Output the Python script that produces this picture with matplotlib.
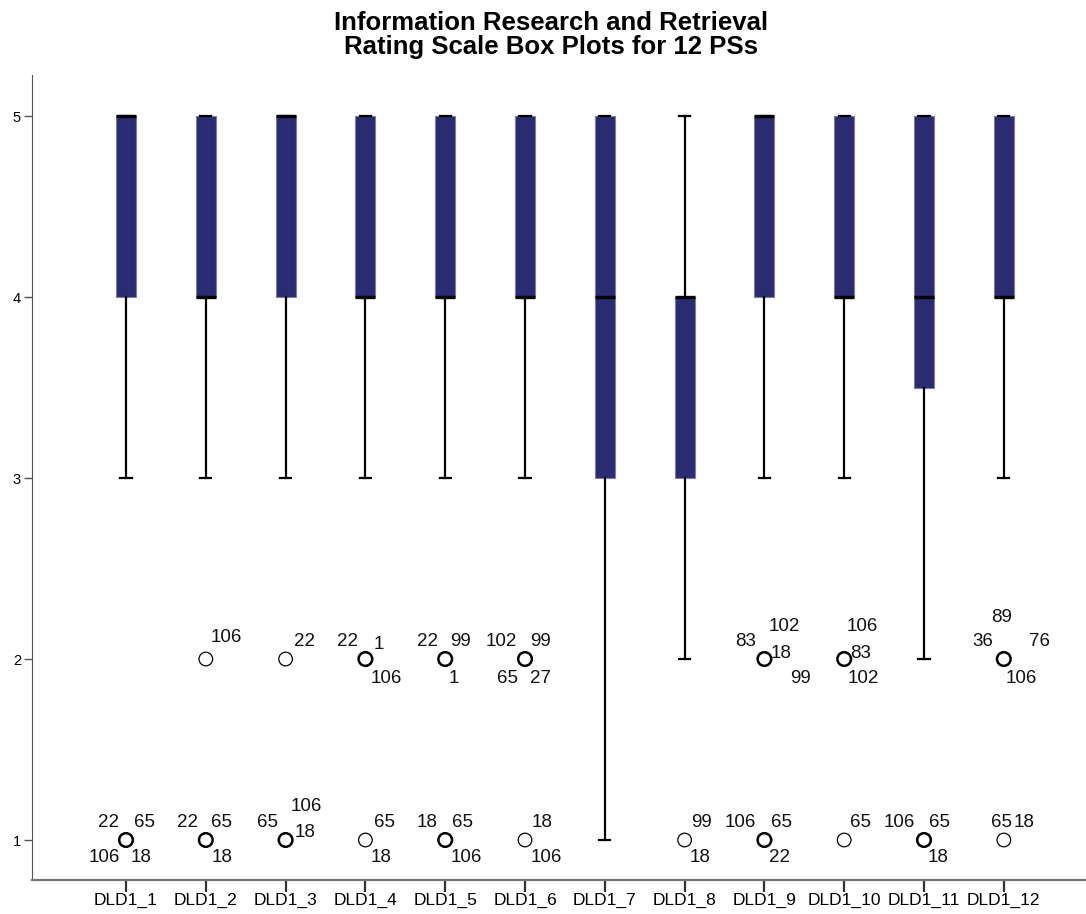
import numpy as np
import matplotlib
matplotlib.use('Agg')
import matplotlib.pyplot as plt

plt.rcParams['font.family'] = ['Liberation Sans', 'DejaVu Sans']

# rating summary for each PS item (1-5 scale)
ps_labels = ['DLD1_1', 'DLD1_2', 'DLD1_3', 'DLD1_4', 'DLD1_5', 'DLD1_6',
             'DLD1_7', 'DLD1_8', 'DLD1_9', 'DLD1_10', 'DLD1_11', 'DLD1_12']
q1 = [4, 4, 4, 4, 4, 4, 3, 3, 4, 4, 3.5, 4]
medians = [5, 4, 5, 4, 4, 4, 4, 4, 5, 4, 4, 4]
q3 = [5, 5, 5, 5, 5, 5, 5, 4, 5, 5, 5, 5]
whisker_lo = [3, 3, 3, 3, 3, 3, 1, 2, 3, 3, 2, 3]
whisker_hi = [5, 5, 5, 5, 5, 5, 5, 5, 5, 5, 5, 5]

# outlying ratings and the case numbers at each one
outlier_values = [[1], [2, 1], [2, 1], [2, 1], [2, 1], [2, 1],
                  [], [1], [2, 1], [2, 1], [1], [2, 1]]
outlier_cases = [
    [[22, 65, 106, 18]],
    [[106], [22, 65, 18]],
    [[22], [65, 106, 18]],
    [[22, 1, 106], [65, 18]],
    [[22, 99, 1], [18, 65, 106]],
    [[102, 99, 65, 27], [18, 106]],
    [],
    [[99, 18]],
    [[83, 102, 18, 99], [106, 65, 22]],
    [[106, 83, 102], [65]],
    [[106, 65, 18]],
    [[89, 36, 76, 106], [65, 18]],
]

# where each case label sits around its circle (pixels, +y is downward)
label_offsets = [
    [[(-18, -18), (18, -18), (-22, 17), (15, 17)]],
    [[(21, -22)], [(-18, -18), (16, -18), (16, 17)]],
    [[(19, -18)], [(-18, -18), (21, -34), (19, -8)]],
    [[(-18, -18), (13, -15), (21, 19)], [(19, -18), (16, 17)]],
    [[(-18, -18), (15, -18), (9, 19)], [(-18, -18), (17, -18), (21, 17)]],
    [[(-24, -18), (15, -18), (-18, 19), (15, 19)], [(17, -18), (21, 17)]],
    [],
    [[(17, -18), (15, 17)]],
    [[(-19, -18), (20, -33), (17, -6), (36, 19)], [(-24, -18), (17, -18), (15, 17)]],
    [[(18, -33), (16, -6), (19, 19)], [(16, -18)]],
    [[(-25, -18), (15, -18), (14, 17)]],
    [[(-2, -42), (-21, -18), (36, -18), (18, 19)], [(-2, -18), (20, -18)]],
]

box_color = '#2a2b70'
px = 0.72  # points per pixel at dpi 100

fig = plt.figure(figsize=(10.86, 9.14), dpi=100)
ax = fig.add_axes([32 / 1086, 34 / 914, 1 - 32 / 1086, (880 - 75) / 914])

positions = np.arange(1, len(ps_labels) + 1)
stats = []
for i in range(len(ps_labels)):
    stats.append(dict(q1=q1[i], med=medians[i], q3=q3[i],
                      whislo=whisker_lo[i], whishi=whisker_hi[i], fliers=[]))

ax.bxp(stats, positions=positions, widths=0.25, capwidths=0.14,
       patch_artist=True, showfliers=False,
       boxprops=dict(facecolor=box_color, edgecolor='#7a7bb8', linewidth=0.8),
       medianprops=dict(color='black', linewidth=2.4, solid_capstyle='butt'),
       whiskerprops=dict(color='black', linewidth=1.6),
       capprops=dict(color='black', linewidth=1.6))

for i in range(len(ps_labels)):
    for val, cases, offs in zip(outlier_values[i], outlier_cases[i], label_offsets[i]):
        lw = 1.8 if len(cases) >= 3 else 0.9
        ax.scatter([positions[i]], [val], s=9.8 ** 2, facecolors='none',
                   edgecolors='black', linewidths=lw, zorder=4)
        for case, (dx, dy) in zip(cases, offs):
            ax.annotate(str(case), (positions[i], val), xytext=(dx * px, -dy * px),
                        textcoords='offset points', ha='center', va='center',
                        fontsize=13.5, color='#111111')

ax.set_xlim(-0.178, 13.03)
ax.set_ylim(0.779, 5.227)
ax.set_yticks([1, 2, 3, 4, 5])
ax.set_xticks(positions)
ax.set_xticklabels(ps_labels, fontsize=12.5)
ax.tick_params(axis='y', direction='out', length=6, width=1, color='#555555',
               labelsize=10.5, pad=2)
ax.tick_params(axis='x', direction='out', length=8.6, width=1.6, color='#333333',
               pad=1)

for side in ['top', 'right']:
    ax.spines[side].set_visible(False)
ax.spines['left'].set_color('#555555')
ax.spines['bottom'].set_color('#777777')
ax.spines['bottom'].set_linewidth(1.6)

fig.text(551 / 1086, 1 - 11 / 914,
         'Information Research and Retrieval\nRating Scale Box Plots for 12 PSs',
         ha='center', va='top', fontsize=18.5, fontweight='bold', linespacing=1.0)

fig.savefig('out.png', dpi=100)
